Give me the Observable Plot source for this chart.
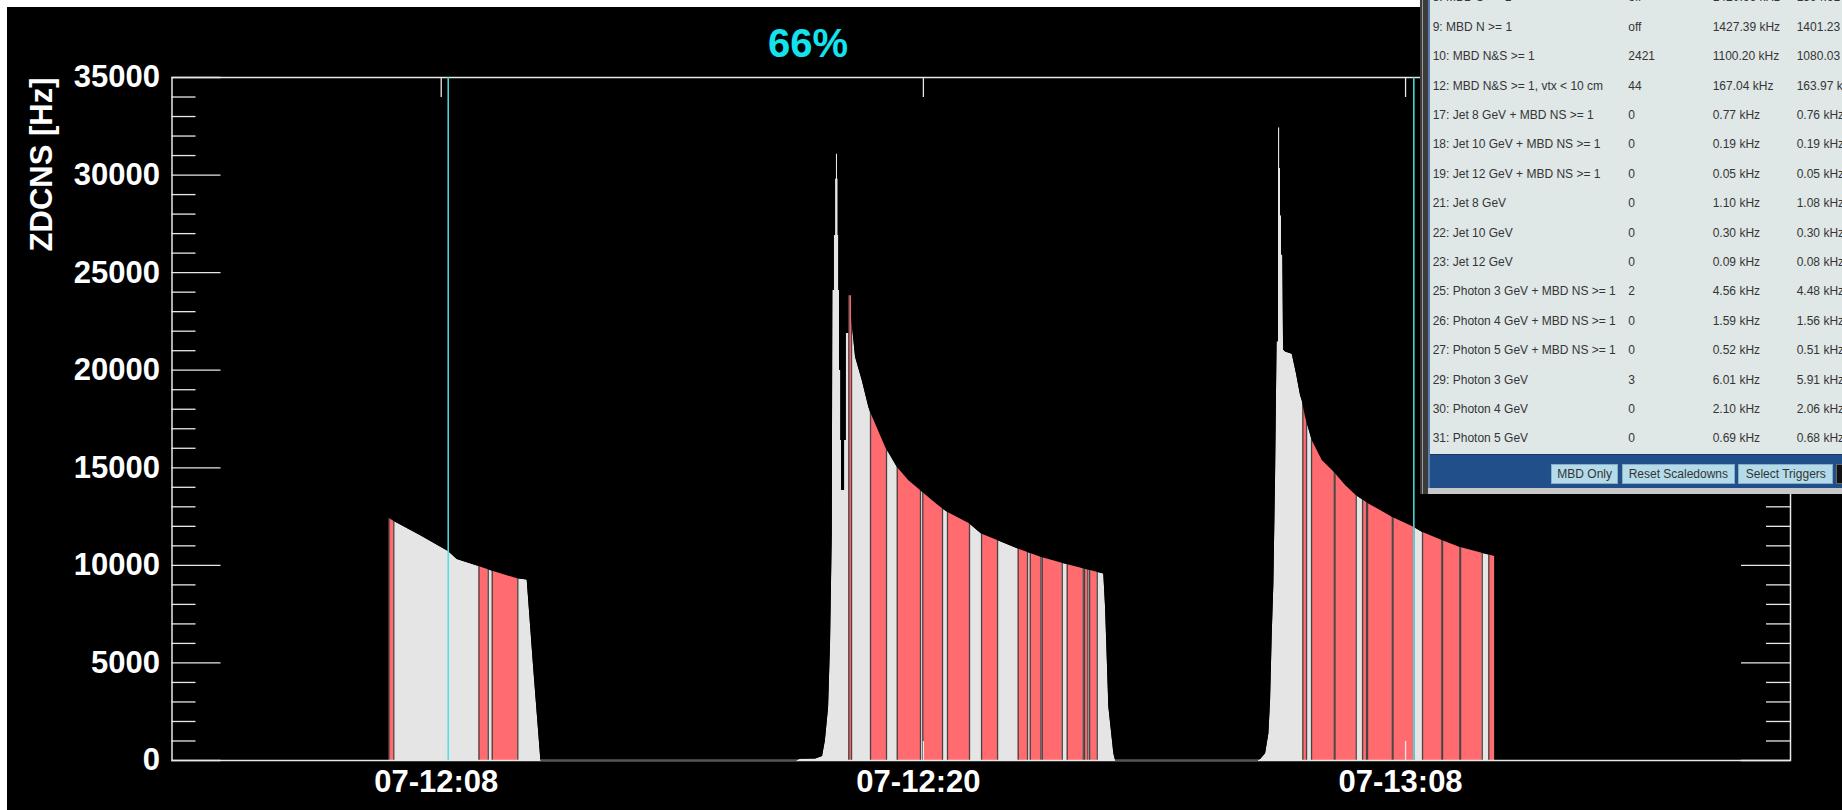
<!DOCTYPE html>
<html>
<head>
<meta charset="utf-8">
<script src="https://cdn.jsdelivr.net/npm/d3@7"></script>
<script src="https://cdn.jsdelivr.net/npm/@observablehq/plot@0.6"></script>
<style>
  html, body { margin: 0; padding: 0; }
  body { width: 1842px; height: 810px; overflow: hidden; position: relative; background: #ffffff;
         font-family: "Liberation Sans", Arial, Helvetica, sans-serif; }
  #bg { position: absolute; left: 7px; top: 7px; width: 1835px; height: 803px; background: #000; }
  #chart { position: absolute; left: 0; top: 0; }
  #title { position: absolute; left: 708px; top: 23px; width: 200px; text-align: center;
           font-size: 40px; line-height: 40px; font-weight: bold; color: #12e3ee; }
  #panel { position: absolute; left: 1420px; top: 0; width: 422px; height: 494px; overflow: hidden;
           background: #c8c8c8; z-index: 10; }
  #panel .lb1 { position: absolute; left: 0; top: 0; width: 8px; height: 494px; background: #3c3c3c; }
  #panel .lb2 { position: absolute; left: 2px; top: 0; width: 1px; height: 494px; background: #9a9a9a; }
  #panel .lb3 { position: absolute; left: 8px; top: 0; width: 2px; height: 488px; background: #5a7db0; }
  #panel .content { position: absolute; left: 10px; top: 0; width: 412px; height: 454px; background: #dfe7e7; }
  #panel .bar { position: absolute; left: 10px; top: 454px; width: 412px; height: 34px; background: #214f8a;
                border-top: 1px solid #17396a; box-sizing: border-box; }
  #panel .cell { position: absolute; white-space: nowrap; font-size: 12px; line-height: 16px; color: #353535; }
  #panel .btn { position: absolute; top: 464px; height: 20px; box-sizing: border-box; background: #b3dbea;
                border: 1px solid #86aec4; font-size: 12px; line-height: 18px; color: #333; text-align: center;
                white-space: nowrap; }
  #panel .btn.dark { background: #111; border-color: #666; }
</style>
</head>
<body>
<div id="bg"></div>
<div id="chart"></div>
<div id="title"></div>
<div id="panel"></div>
<script>
// ---------------- chart data ----------------
const titleText = "66%";
const yLabel = "ZDCNS [Hz]";
const xTickValues = [300, 900, 1500];
const xTickLabels = ["07-12:08", "07-12:20", "07-13:08"];
const yMajorTicks = [0, 5000, 10000, 15000, 20000, 25000, 30000, 35000];
const yMinorTicks = [1000, 2000, 3000, 4000, 6000, 7000, 8000, 9000, 11000, 12000, 13000, 14000,
                     16000, 17000, 18000, 19000, 21000, 22000, 23000, 24000, 26000, 27000, 28000, 29000,
                     31000, 32000, 33000, 34000];

// rate envelope per fill (x in time bins, value in Hz)
const envelope1 = [[235,0],[235,12410],[241,12260],[274,11530],[309,10710],[320,10300],[347,9940],
  [364,9700],[395,9310],[407,9250],[415,4780],[424,0]];
const envelope2 = [[743,0],[747,60],[766,80],[774.5,200],[778,1000],[782,2700],[784.5,6100],[786.6,11600],
  [787.3,24080],[789.1,24080],[789.1,26900],[790.7,26900],[790.7,29800],[791.6,29800],[791.6,31080],
  [793.2,31080],[793.2,29800],[794,29800],[794,26900],[794.8,26900],[794.8,24080],[795.7,24080],
  [795.7,19980],[797.3,19980],[797.3,16400],[798.1,16400],[798.1,13830],[801.9,13830],[801.9,16400],
  [804,16400],[804,21880],[807.2,21880],[807.2,23820],[810.6,23820],[810.6,22710],[815.6,20660],
  [823.9,19470],[832.1,18100],[834.2,17840],[852.9,16050],[867.5,15030],[881.9,14340],[896.4,13830],
  [911,13320],[923.8,12900],[930,12720],[957.4,12130],[972.4,11610],[992.3,11270],[1018,10840],
  [1046.2,10420],[1072.8,10110],[1098.9,9820],[1116.3,9650],[1124.5,9560],[1126.7,7850],[1130.8,2730],
  [1137,350],[1139.1,0]];
const envelope3 = [[1317,0],[1319.6,50],[1325.8,340],[1329.9,1370],[1332,3070],[1334.1,6490],[1336.1,9050],
  [1338.2,14510],[1340.1,21460],[1341.9,21460],[1341.9,32430],[1343.6,32430],[1343.6,30340],[1344.4,30340],
  [1344.4,27920],[1345.7,27920],[1345.7,25900],[1347.3,25900],[1348.2,21030],[1350.7,20930],[1359,20820],
  [1364.3,19800],[1369.3,18700],[1371.4,18440],[1375.5,17590],[1383.9,16390],[1396.3,15370],[1411.2,14770],
  [1425.3,14090],[1438.6,13580],[1454.3,13150],[1483.4,12470],[1510.3,11950],[1520.8,11700],[1545.6,11270],
  [1567.2,10930],[1595.4,10620],[1611.1,10450],[1611.1,0]];

// periods highlighted in red (start, end)
const redBands1 = [[235,241],[347,358.5],[363.5,395.3]];
const redBands2 = [[807.2,810.6],[834.2,854.1],[867.5,896.4],[899.3,923.8],[930,957.4],[972.4,992.3],
  [1018,1029.6],[1033,1046.2],[1047.9,1072.8],[1079,1098.9],[1100.5,1104.6],[1106.8,1116.3]];
const redBands3 = [[1372.2,1376.8],[1383,1411.2],[1412.2,1438.6],[1446.5,1451.5],[1452.7,1483.4],
  [1484.4,1510.3],[1521.1,1545.1],[1546,1567.5],[1568.4,1595.4],[1603.6,1611.1]];

const markerLines = [308.7, 1510.3];
const xDomain = [-35, 1979];
const yDomain = [0, 35000];

// ---------------- overlay panel data ----------------
const trigNames = ["8: MBD S >= 1", "9: MBD N >= 1", "10: MBD N&S >= 1", "12: MBD N&S >= 1, vtx < 10 cm",
  "17: Jet 8 GeV + MBD NS >= 1", "18: Jet 10 GeV + MBD NS >= 1", "19: Jet 12 GeV + MBD NS >= 1",
  "21: Jet 8 GeV", "22: Jet 10 GeV", "23: Jet 12 GeV", "25: Photon 3 GeV + MBD NS >= 1",
  "26: Photon 4 GeV + MBD NS >= 1", "27: Photon 5 GeV + MBD NS >= 1", "29: Photon 3 GeV",
  "30: Photon 4 GeV", "31: Photon 5 GeV"];
const trigScaledown = ["off", "off", "2421", "44", "0", "0", "0", "0", "0", "0", "2", "0", "0", "3", "0", "0"];
const trigRaw = ["1420.66 kHz", "1427.39 kHz", "1100.20 kHz", "167.04 kHz", "0.77 kHz", "0.19 kHz", "0.05 kHz",
  "1.10 kHz", "0.30 kHz", "0.09 kHz", "4.56 kHz", "1.59 kHz", "0.52 kHz", "6.01 kHz", "2.10 kHz", "0.69 kHz"];
const trigLive = ["1394.61 kHz", "1401.23 kHz", "1080.03 kHz", "163.97 kHz", "0.76 kHz", "0.19 kHz", "0.05 kHz",
  "1.08 kHz", "0.30 kHz", "0.08 kHz", "4.48 kHz", "1.56 kHz", "0.51 kHz", "5.91 kHz", "2.06 kHz", "0.68 kHz"];
const buttonLabels = ["MBD Only", "Reset Scaledowns", "Select Triggers", ""];

// ---------------- build chart ----------------
const W = 1842, H = 810, mL = 171.5, mR = 52, mT = 77, mB = 50;
const frameW = W - mL - mR, frameH = H - mT - mB;
const FONT = '"Liberation Sans", Arial, Helvetica, sans-serif';
const GRAY = "#e5e5e5", RED = "#ff6b6f", EDGE = "#4a4242", CYAN = "#4fe0e2", AXIS = "#e8e8e8";

const allEnv = [[xDomain[0], 0], ...envelope1, ...envelope2, ...envelope3, [xDomain[1], 0]];
const allBands = [...redBands1, ...redBands2, ...redBands3];
const bandEdges = allBands.flatMap(b => b);
const zeroGaps = [[envelope1[envelope1.length-1][0], envelope2[0][0]],
                  [envelope2[envelope2.length-1][0], envelope3[0][0]]];

const chart = Plot.plot({
  width: W, height: H,
  marginLeft: mL, marginRight: mR, marginTop: mT, marginBottom: mB,
  x: {domain: xDomain},
  y: {domain: yDomain},
  style: {background: "transparent", color: "white", fontFamily: FONT, overflow: "visible"},
  marks: [
    Plot.areaY(allEnv, {x: d => d[0], y1: 0, y2: d => d[1], fill: GRAY, curve: "linear"}),
    Plot.rect(allBands, {x1: d => d[0], x2: d => d[1], y1: yDomain[0], y2: yDomain[1], fill: RED}),
    Plot.ruleX(bandEdges, {x: d => d, stroke: EDGE, strokeWidth: 1.3}),
    Plot.areaY(allEnv, {x: d => d[0], y1: d => d[1], y2: yDomain[1], fill: "black", curve: "linear"}),
    Plot.frame({stroke: AXIS, strokeWidth: 1.5}),
    Plot.ruleY(zeroGaps, {y: () => 0, x1: d => d[0], x2: d => d[1], stroke: "#555", strokeWidth: 1.5}),
    Plot.ruleX(markerLines, {x: d => d, stroke: CYAN, strokeWidth: 1.5}),
    // inner ticks, left and right
    Plot.tickY(yMajorTicks, {y: d => d, stroke: AXIS, strokeWidth: 1.3, insetRight: frameW - 49}),
    Plot.tickY(yMajorTicks, {y: d => d, stroke: AXIS, strokeWidth: 1.3, insetLeft: frameW - 49}),
    Plot.tickY(yMinorTicks, {y: d => d, stroke: AXIS, strokeWidth: 1.3, insetRight: frameW - 24}),
    Plot.tickY(yMinorTicks, {y: d => d, stroke: AXIS, strokeWidth: 1.3, insetLeft: frameW - 24}),
    // inner ticks, top and bottom
    Plot.tickX(xTickValues, {x: d => d, stroke: AXIS, strokeWidth: 1.3, insetBottom: frameH - 20}),
    Plot.tickX(xTickValues, {x: d => d, stroke: AXIS, strokeWidth: 1.3, insetTop: frameH - 19}),
    Plot.axisY(yMajorTicks, {tickSize: 0, tickPadding: 12, fontSize: 31, fontWeight: "bold",
      tickFormat: d => String(d), label: null, fill: "white"}),
    Plot.axisX(xTickValues, {tickSize: 0, tickPadding: 9, dx: -5, fontSize: 31, fontWeight: "bold",
      tickFormat: d => xTickLabels[xTickValues.indexOf(d)], label: null, fill: "white"}),
    Plot.text([yLabel], {frameAnchor: "top-left", dx: -130, rotate: -90, textAnchor: "end",
      lineAnchor: "middle", fill: "white", fontSize: 31, fontWeight: "bold"})
  ]
});
document.getElementById("chart").appendChild(chart);
document.getElementById("title").textContent = titleText;

// ---------------- overlay panel ----------------
const panel = document.getElementById("panel");
panel.innerHTML = '<div class="lb1"></div><div class="lb2"></div><div class="lb3"></div>' +
                  '<div class="content"></div><div class="bar"></div>';
const colX = [12.7, 208.3, 292.7, 376.7];
const rowY0 = -2.7, rowStep = 29.4;
trigNames.forEach((name, i) => {
  const vals = [name, trigScaledown[i], trigRaw[i], trigLive[i]];
  vals.forEach((v, j) => {
    const el = document.createElement("div");
    el.className = "cell";
    el.style.left = colX[j] + "px";
    el.style.top = (rowY0 + i * rowStep - 8) + "px";
    el.textContent = v;
    panel.appendChild(el);
  });
});
const btnX = [[131, 198.3], [201.7, 315], [318.3, 413.3], [416, 430]];
buttonLabels.forEach((lab, i) => {
  const b = document.createElement("div");
  b.className = "btn" + (lab === "" ? " dark" : "");
  b.style.left = btnX[i][0] + "px";
  b.style.width = (btnX[i][1] - btnX[i][0]) + "px";
  b.textContent = lab;
  panel.appendChild(b);
});
</script>
</body>
</html>
